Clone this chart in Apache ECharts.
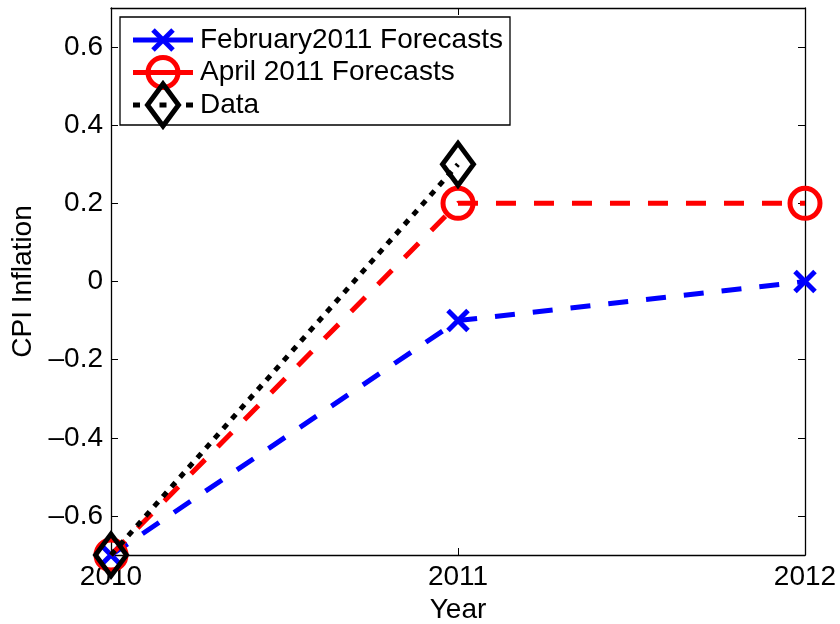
<!DOCTYPE html>
<html>
<head>
<meta charset="utf-8">
<script src="https://cdn.jsdelivr.net/npm/echarts@6/dist/echarts.min.js"></script>
<style>
  html, body { margin: 0; padding: 0; background: #fff; }
  #chart { width: 840px; height: 624px; }
</style>
</head>
<body>
<div id="chart"></div>
<script>
// CPI inflation: forecasts vs. outturn
const years = [2010, 2011, 2012];
const febForecast = [-0.7, -0.1, 0.0];
const aprForecast = [-0.7, 0.2, 0.2];
const dataYears = [2010, 2011];
const cpiData = [-0.7, 0.3];
const xTicks = [2010, 2011, 2012];
const yTicks = [-0.6, -0.4, -0.2, 0, 0.2, 0.4, 0.6];
const seriesNames = ['February2011 Forecasts', 'April 2011 Forecasts', 'Data'];

const FONT = '"Liberation Sans", Arial, Helvetica, sans-serif';
const FS = 28;

function fmtY(v) {
  if (Math.abs(v) < 1e-9) return '0';
  return v.toFixed(1).replace('-', '\u2013');
}

const pair = (xs, ys) => xs.map((x, i) => [x, ys[i]]);

const crossPath = 'path://M0,0L10,10M10,0L0,10';

const chart = echarts.init(document.getElementById('chart'), null, { renderer: 'canvas' });

const gridL = 111, gridR = 35, gridT = 8, gridB = 69;

const baseX = {
  type: 'value', min: 2010, max: 2012, interval: 1,
  axisLine: { show: true, onZero: false, lineStyle: { color: '#000', width: 1.3 } },
  axisTick: { show: true, inside: true, length: 7, lineStyle: { color: '#000', width: 1 } },
  splitLine: { show: false }
};
const baseY = {
  type: 'value', min: -0.7, max: 0.7,
  axisLine: { show: true, onZero: false, lineStyle: { color: '#000', width: 1.3 } },
  axisTick: { show: true, inside: true, length: 7, customValues: yTicks, lineStyle: { color: '#000', width: 1 } },
  splitLine: { show: false }
};

// legend panel drawn as graphic elements
const legX = 120, legY = 17, legW = 390, legH = 108;
const rowY = [40, 72.5, 105];
const lineX0 = 133, lineX1 = 193, symX = 163, textX = 200;

const legendGraphics = [
  { type: 'rect', shape: { x: legX, y: legY, width: legW, height: legH },
    style: { fill: '#fff', stroke: '#000', lineWidth: 1.3 }, z: 10 },
  // February row
  { type: 'line', shape: { x1: lineX0, y1: rowY[0], x2: lineX1, y2: rowY[0] },
    style: { stroke: '#0000ff', lineWidth: 5 }, z: 11 },
  { type: 'line', shape: { x1: symX - 10, y1: rowY[0] - 10, x2: symX + 10, y2: rowY[0] + 10 },
    style: { stroke: '#0000ff', lineWidth: 5 }, z: 11 },
  { type: 'line', shape: { x1: symX + 10, y1: rowY[0] - 10, x2: symX - 10, y2: rowY[0] + 10 },
    style: { stroke: '#0000ff', lineWidth: 5 }, z: 11 },
  // April row
  { type: 'line', shape: { x1: lineX0, y1: rowY[1], x2: lineX1, y2: rowY[1] },
    style: { stroke: '#ff0000', lineWidth: 5 }, z: 11 },
  { type: 'circle', shape: { cx: symX, cy: rowY[1], r: 15 },
    style: { fill: 'none', stroke: '#ff0000', lineWidth: 5 }, z: 11 },
  // Data row
  { type: 'line', shape: { x1: lineX0, y1: rowY[2], x2: lineX1, y2: rowY[2] },
    style: { stroke: '#000', lineWidth: 5, lineDash: [7, 19.5] }, z: 11 },
  { type: 'polygon', shape: { points: [[symX, rowY[2] - 21], [symX + 15.5, rowY[2]], [symX, rowY[2] + 21], [symX - 15.5, rowY[2]]] },
    style: { fill: 'none', stroke: '#000', lineWidth: 5 }, z: 11 }
];
seriesNames.forEach((name, i) => {
  legendGraphics.push({
    type: 'text', x: textX, y: rowY[i], z: 11,
    style: { text: name, font: FS + 'px ' + FONT, fill: '#000', textVerticalAlign: 'middle', verticalAlign: 'middle' }
  });
});

const option = {
  backgroundColor: '#fff',
  animation: false,
  textStyle: { fontFamily: FONT },
  grid: { left: gridL, right: gridR, top: gridT, bottom: gridB, containLabel: false, outerBoundsMode: 'none' },
  xAxis: [
    Object.assign({}, baseX, {
      position: 'bottom',
      name: 'Year', nameLocation: 'middle', nameGap: 35,
      nameTextStyle: { color: '#000', fontSize: FS, fontFamily: FONT },
      axisLabel: {
        show: true, margin: 8, color: '#000', fontSize: FS, fontFamily: FONT,
        showMinLabel: true, showMaxLabel: true, customValues: xTicks,
        formatter: v => String(v)
      }
    }),
    Object.assign({}, baseX, { position: 'top', axisLabel: { show: false } })
  ],
  yAxis: [
    Object.assign({}, baseY, {
      position: 'left',
      name: 'CPI Inflation', nameLocation: 'middle', nameGap: 72,
      nameTextStyle: { color: '#000', fontSize: FS, fontFamily: FONT },
      axisLabel: {
        show: true, margin: 8, color: '#000', fontSize: FS, fontFamily: FONT,
        customValues: yTicks, formatter: fmtY
      }
    }),
    Object.assign({}, baseY, { position: 'right', axisLabel: { show: false } })
  ],
  graphic: legendGraphics,
  series: [
    {
      name: seriesNames[0], type: 'line', clip: false,
      data: pair(years, febForecast),
      symbol: crossPath, symbolSize: 20,
      lineStyle: { color: '#0000ff', width: 5, type: [20, 18], cap: 'butt' },
      itemStyle: { color: 'transparent', borderColor: '#0000ff', borderWidth: 5 },
      z: 3
    },
    {
      name: seriesNames[1], type: 'line', clip: false,
      data: pair(years, aprForecast),
      symbol: 'circle', symbolSize: 30,
      lineStyle: { color: '#ff0000', width: 5, type: [20, 18], cap: 'butt' },
      itemStyle: { color: 'transparent', borderColor: '#ff0000', borderWidth: 5 },
      z: 4
    },
    {
      name: seriesNames[2], type: 'line', clip: false,
      data: pair(dataYears, cpiData),
      symbol: 'diamond', symbolSize: [31, 42],
      lineStyle: { color: '#000', width: 5, type: [6, 7], cap: 'butt' },
      itemStyle: { color: 'transparent', borderColor: '#000', borderWidth: 5 },
      z: 5
    }
  ]
};

chart.setOption(option);
</script>
</body>
</html>
